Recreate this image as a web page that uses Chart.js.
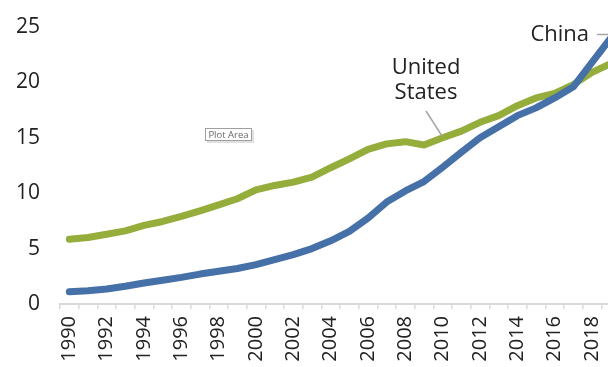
<!DOCTYPE html>
<html>
<head>
<meta charset="utf-8">
<script src="https://cdn.jsdelivr.net/npm/chart.js@4/dist/chart.umd.min.js"></script>
<style>
  html, body { margin: 0; padding: 0; background: #fff; overflow: hidden; }
  #wrap { width: 608px; height: 367px; overflow: hidden; position: relative; }
  #box { width: 620px; height: 367px; position: absolute; left: 0; top: 0; }
</style>
</head>
<body>
<div id="wrap"><div id="box"><canvas id="c"></canvas></div></div>
<script>
const years = [1990,1991,1992,1993,1994,1995,1996,1997,1998,1999,2000,2001,2002,2003,2004,2005,2006,2007,2008,2009,2010,2011,2012,2013,2014,2015,2016,2017,2018,2019];
const chinaValues = [1.1,1.2,1.35,1.6,1.9,2.15,2.4,2.7,2.95,3.2,3.55,4.0,4.45,5.0,5.7,6.55,7.75,9.2,10.2,11.05,12.35,13.7,15.0,16.0,17.0,17.7,18.6,19.6,21.8,24.0];
const usValues = [5.85,6.0,6.3,6.6,7.1,7.45,7.9,8.4,8.95,9.5,10.3,10.7,11.0,11.45,12.3,13.1,13.95,14.45,14.65,14.35,15.0,15.6,16.4,17.0,17.9,18.6,19.0,19.8,20.9,21.7];
const yTicks = [0,5,10,15,20,25];
const seriesNames = ['China', 'United States'];

const FONT = '"Open Sans", "Noto Sans", sans-serif';
const TEXT = '#222222';

const annotations = {
  id: 'annotations',
  afterDraw(chart) {
    const ctx = chart.ctx;
    ctx.save();
    // China label
    ctx.font = '22px ' + FONT;
    ctx.fillStyle = TEXT;
    ctx.textBaseline = 'middle';
    ctx.textAlign = 'right';
    ctx.fillText('China', 589, 35);
    ctx.strokeStyle = '#a6a6a6';
    ctx.lineWidth = 1.5;
    ctx.beginPath();
    ctx.moveTo(597, 34.5);
    ctx.lineTo(612, 34.5);
    ctx.stroke();
    // United States label
    ctx.textAlign = 'center';
    ctx.fillText('United', 426, 68);
    ctx.fillText('States', 426, 93);
    ctx.beginPath();
    ctx.moveTo(426, 111);
    ctx.lineTo(442, 136);
    ctx.stroke();
    // Plot Area tooltip
    ctx.fillStyle = 'rgba(0,0,0,0.12)';
    ctx.fillRect(207, 130, 47, 13);
    ctx.fillStyle = '#ffffff';
    ctx.fillRect(205, 128, 47, 13);
    ctx.strokeStyle = '#a0a0a0';
    ctx.lineWidth = 1;
    ctx.strokeRect(205.5, 128.5, 46, 12);
    ctx.font = '9.5px ' + FONT;
    ctx.fillStyle = '#666666';
    ctx.textAlign = 'center';
    ctx.fillText('Plot Area', 228.5, 135);
    ctx.restore();
  }
};

new Chart(document.getElementById('c'), {
  type: 'line',
  data: {
    labels: years.map(String),
    datasets: [
      { label: seriesNames[0], data: chinaValues, borderColor: '#4570a8', backgroundColor: '#4570a8',
        borderWidth: 7, pointRadius: 0, tension: 0, borderCapStyle: 'round', borderJoinStyle: 'round', clip: 8 },
      { label: seriesNames[1], data: usValues, borderColor: '#95ad3b', backgroundColor: '#95ad3b',
        borderWidth: 7, pointRadius: 0, tension: 0, borderCapStyle: 'round', borderJoinStyle: 'round', clip: 8 }
    ]
  },
  options: {
    responsive: true,
    maintainAspectRatio: false,
    animation: false,
    devicePixelRatio: 1,
    layout: { padding: { top: 27, left: 0, right: 0, bottom: 0 } },
    plugins: { legend: { display: false }, tooltip: { enabled: false } },
    scales: {
      x: {
        type: 'category',
        offset: true,
        grid: { display: true, drawOnChartArea: false, drawTicks: true, tickLength: 5, offset: true, color: '#d9d9d9', lineWidth: 1.5 },
        border: { display: true, color: '#d9d9d9', width: 2 },
        ticks: {
          autoSkip: false, maxRotation: 90, minRotation: 90, padding: 7,
          color: TEXT, font: { family: FONT, size: 20 },
          callback: function(v, i) { const y = years[i]; return y % 2 === 0 ? String(y) : ''; }
        },
        afterFit(scale) { scale.height = 63; scale.paddingLeft = 0; scale.paddingRight = 0; }
      },
      y: {
        min: 0, max: 25,
        afterBuildTicks(scale) { scale.ticks = yTicks.map(v => ({ value: v })); },
        grid: { display: false, drawTicks: false },
        border: { display: false },
        ticks: { padding: 20, color: TEXT, font: { family: FONT, size: 21 } },
        afterFit(scale) { scale.width = 60; scale.paddingTop = 0; scale.paddingBottom = 0; }
      }
    }
  },
  plugins: [annotations]
});
</script>
</body>
</html>
